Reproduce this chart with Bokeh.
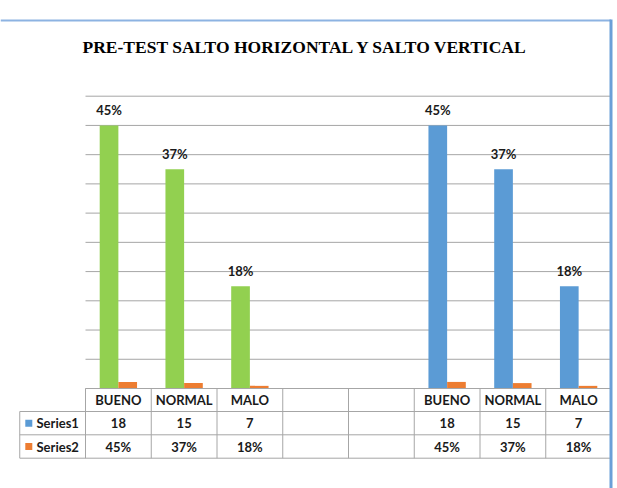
from bokeh.plotting import figure
from bokeh.models import Range1d, ColumnDataSource
from bokeh.core.properties import value
from bokeh.embed import file_html
from bokeh.resources import INLINE

# ---------------- data ----------------
title_text = "PRE-TEST SALTO HORIZONTAL Y SALTO VERTICAL"
categories = ["BUENO", "NORMAL", "MALO", "", "", "BUENO", "NORMAL", "MALO"]
series1 = [18, 15, 7, None, None, 18, 15, 7]
series2 = [0.45, 0.37, 0.18, None, None, 0.45, 0.37, 0.18]
series_names = ["Series1", "Series2"]
grid_ticks = list(range(0, 21, 2))

# ---------------- styles ----------------
GREEN = "#92D050"
BLUE = "#5B9BD5"
ORANGE = "#ED7D31"
GRID = "#A6A6A6"
TABLE_LINE = "#A6A6A6"
bar1_colors = [GREEN, GREEN, GREEN, None, None, BLUE, BLUE, BLUE]
legend_colors = [BLUE, ORANGE]
FONT = value("Lato")
FS = "13px"

# ---------------- layout (pixels) ----------------
W, H = 617, 488
X0, CW = 85.0, 65.75          # left of first category, category width
Y0 = 388.0                    # value 0
PU = (388.0 - 95.7) / 20.0    # pixels per unit


def ux(px):
    return (px - X0) / CW


def vy(py):
    return (Y0 - py) / PU


p = figure(width=W, height=H,
           x_range=Range1d(ux(0), ux(W)), y_range=Range1d(vy(H), vy(0)),
           x_axis_type=None, y_axis_type=None, min_border=0,
           outline_line_color=None, toolbar_location=None,
           output_backend="svg",
           background_fill_color="white", border_fill_color="white")

n = len(categories)

# gridlines
p.segment(x0=[0] * len(grid_ticks), x1=[n] * len(grid_ticks),
          y0=grid_ticks, y1=grid_ticks, line_color=GRID, line_width=1)

# bars
BAR_W = 0.284
OFF = 0.142
idx = [i for i, v in enumerate(series1) if v is not None]
src1 = ColumnDataSource(dict(
    x=[i + 0.5 - OFF for i in idx],
    top=[series1[i] for i in idx],
    color=[bar1_colors[i] for i in idx],
    label=[f"{round(series2[i] * 100)}%" for i in idx],
    ly=[series1[i] + 15.0 / PU for i in idx],
))
src2 = ColumnDataSource(dict(
    x=[i + 0.5 + OFF for i in idx],
    top=[series2[i] for i in idx],
))
p.vbar(x="x", top="top", bottom=0, width=BAR_W, fill_color="color",
       line_color=None, source=src1)
p.vbar(x="x", top="top", bottom=0, width=BAR_W, fill_color=ORANGE,
       line_color=None, source=src2)
p.text(x="x", y="ly", text="label", source=src1, text_font=FONT,
       text_font_style="bold", text_font_size=FS, text_align="center",
       text_baseline="middle", text_color="#1a1a1a")

# data table
rows_px = [388.0, 411.0, 434.3, 457.7]
R = [vy(r) for r in rows_px]
hx0 = [0, -1, -1, -1]
p.segment(x0=hx0, x1=[n] * 4, y0=R, y1=R, line_color=TABLE_LINE, line_width=1)
vx = [-1] + list(range(0, n + 1))
vtop = [R[1]] + [R[0]] * (n + 1)
p.segment(x0=vx, x1=vx, y0=vtop, y1=[R[3]] * len(vx),
          line_color=TABLE_LINE, line_width=1)

row_c = [(R[0] + R[1]) / 2, (R[1] + R[2]) / 2, (R[2] + R[3]) / 2]
cx = [i + 0.5 for i in range(n)]
s1_txt = ["" if v is None else str(v) for v in series1]
s2_txt = ["" if v is None else f"{round(v * 100)}%" for v in series2]
tsrc = ColumnDataSource(dict(
    x=cx * 3,
    y=[row_c[0]] * n + [row_c[1]] * n + [row_c[2]] * n,
    t=categories + s1_txt + s2_txt,
))
p.text(x="x", y="y", text="t", source=tsrc, text_font=FONT,
       text_font_style="bold", text_font_size=FS, text_align="center",
       text_baseline="middle", text_color="#1a1a1a")

# legend keys in table
p.rect(x=[ux(28.3)] * 2, y=row_c[1:], width=7, height=7,
       width_units="screen", height_units="screen",
       fill_color=legend_colors, line_color=None)
p.text(x=[ux(36)] * 2, y=row_c[1:], text=series_names, text_font=FONT,
       text_font_style="bold", text_font_size=FS, text_align="left",
       text_baseline="middle", text_color="#1a1a1a")

# title
p.text(x=[ux(305)], y=[vy(46.7)], text=[title_text],
       text_font=value("'Liberation Serif', 'DejaVu Serif', serif"),
       text_font_style="bold",
       text_font_size="17.5px", text_align="center",
       text_baseline="alphabetic", text_color="black")

# chart border (top and right)
p.line(x=[ux(0), ux(610.5)], y=[vy(20), vy(20)], line_color="#8DB3E2",
       line_width=2)
p.line(x=[ux(610.5), ux(610.5)], y=[vy(19), vy(H)], line_color="#6A9FD8",
       line_width=3)

open("out.html", "w").write(file_html(p, INLINE))
